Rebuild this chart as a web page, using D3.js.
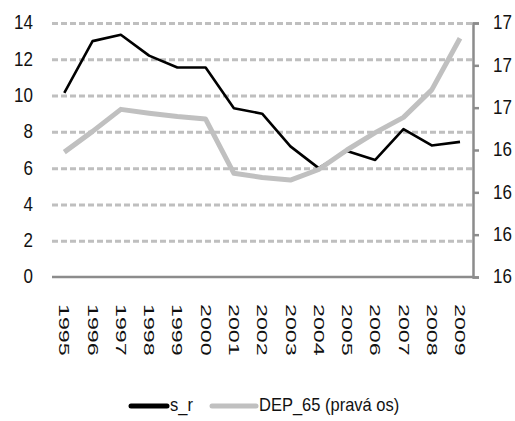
<!DOCTYPE html>
<html>
<head>
<meta charset="utf-8">
<script src="https://cdn.jsdelivr.net/npm/d3@7"></script>
<style>
  body { margin: 0; background: #fff; }
  text { font-family: "Liberation Sans", Arial, sans-serif; fill: #111; }
</style>
</head>
<body>
<script>
let years = ["1995","1996","1997","1998","1999","2000","2001","2002","2003","2004","2005","2006","2007","2008","2009"];
let sR = [10.15, 13.0, 13.35, 12.2, 11.55, 11.55, 9.3, 9.0, 7.2, 6.0, 6.95, 6.45, 8.15, 7.25, 7.45];
let dep65 = [16.395, 16.444, 16.496, 16.487, 16.479, 16.473, 16.345, 16.335, 16.329, 16.354, 16.400, 16.441, 16.477, 16.542, 16.664];
let leftTicks = [0, 2, 4, 6, 8, 10, 12, 14];
let rightTicks = [16.1, 16.2, 16.3, 16.4, 16.5, 16.6, 16.7];
let rightLabels = ["16","16","16","16","17","17","17"];
let seriesNames = ["s_r", "DEP_65 (pravá os)"];

let width = 515, height = 421;
let plotLeft = 52, plotRight = 473, plotTop = 23, plotBottom = 277;

let svg = d3.select("body").append("svg").attr("width", width).attr("height", height);

let x = d3.scalePoint().domain(years).range([64.3, 460]);
let yL = d3.scaleLinear().domain([0, 14]).range([plotBottom, plotTop]);
let yR = d3.scaleLinear().domain([16.1, 16.7]).range([plotBottom, plotTop]);

// dashed grid
let grid = svg.append("g")
	.attr("transform", `translate(${plotLeft},0)`)
	.call(d3.axisLeft(yL).tickValues(leftTicks.filter(d => d > 0)).tickSize(-(plotRight - plotLeft)).tickFormat(""));
grid.select(".domain").remove();
grid.selectAll("line").attr("stroke", "#bfbfbf").attr("stroke-width", 3).attr("stroke-dasharray", "6,3");

// left labels
let yAxisL = svg.append("g")
	.attr("transform", `translate(${plotLeft},0)`)
	.call(d3.axisLeft(yL).tickValues(leftTicks).tickSize(0).tickPadding(19));
yAxisL.select(".domain").remove();
yAxisL.selectAll("text")
	.attr("font-size", 17)
	.attr("font-family", "Liberation Sans, Arial, sans-serif")
	.attr("fill", "#111")
	.attr("transform", "scale(1,1.15)")
	.attr("dy", "0.3em");

// baseline
svg.append("line")
	.attr("x1", plotLeft).attr("x2", plotRight)
	.attr("y1", yL(0)).attr("y2", yL(0))
	.attr("stroke", "#8c8c8c").attr("stroke-width", 2.5);

// years
let xAxis = svg.append("g")
	.attr("transform", `translate(0,${plotBottom})`)
	.call(d3.axisBottom(x).tickSize(0));
xAxis.select(".domain").remove();
xAxis.selectAll("text")
	.attr("font-size", 15)
	.attr("font-family", "Liberation Sans, Arial, sans-serif")
	.attr("fill", "#111")
	.attr("text-anchor", "start")
	.attr("x", 0).attr("y", 0).attr("dy", "0.36em")
	.attr("transform", "translate(0,27) rotate(90) scale(1.55,1)");

// lines
let lineL = d3.line().x((d, i) => x(years[i])).y(d => yL(d));
let lineR = d3.line().x((d, i) => x(years[i])).y(d => yR(d));

svg.append("path")
	.datum(sR)
	.attr("d", lineL)
	.attr("fill", "none")
	.attr("stroke", "#000")
	.attr("stroke-width", 2.6)
	.attr("stroke-linejoin", "round");

svg.append("path")
	.datum(dep65)
	.attr("d", lineR)
	.attr("fill", "none")
	.attr("stroke", "#c0c0c0")
	.attr("stroke-width", 5)
	.attr("stroke-linejoin", "round");

// right axis
let yAxisR = svg.append("g")
	.attr("transform", `translate(${plotRight},0)`)
	.call(d3.axisRight(yR).tickValues(rightTicks).tickSize(6).tickPadding(14).tickFormat((d, i) => rightLabels[i]));
yAxisR.selectAll("path, line").attr("stroke", "#8c8c8c").attr("stroke-width", 2.5);
yAxisR.selectAll("text")
	.attr("font-size", 17)
	.attr("font-family", "Liberation Sans, Arial, sans-serif")
	.attr("fill", "#111")
	.attr("transform", "scale(1,1.15)")
	.attr("dy", "0.3em");

// legend
let legend = svg.append("g");
let legendItems = [
	{name: seriesNames[0], color: "#000", x1: 131, x2: 167, tx: 170},
	{name: seriesNames[1], color: "#c0c0c0", x1: 212, x2: 256, tx: 259}
];
legendItems.forEach(it => {
	legend.append("line")
		.attr("x1", it.x1).attr("x2", it.x2)
		.attr("y1", 406).attr("y2", 406)
		.attr("stroke", it.color).attr("stroke-width", 5).attr("stroke-linecap", "round");
	legend.append("text")
		.attr("transform", `translate(${it.tx},411) scale(1,1.15)`)
		.attr("font-size", 16.5)
		.text(it.name);
});
</script>
</body>
</html>
